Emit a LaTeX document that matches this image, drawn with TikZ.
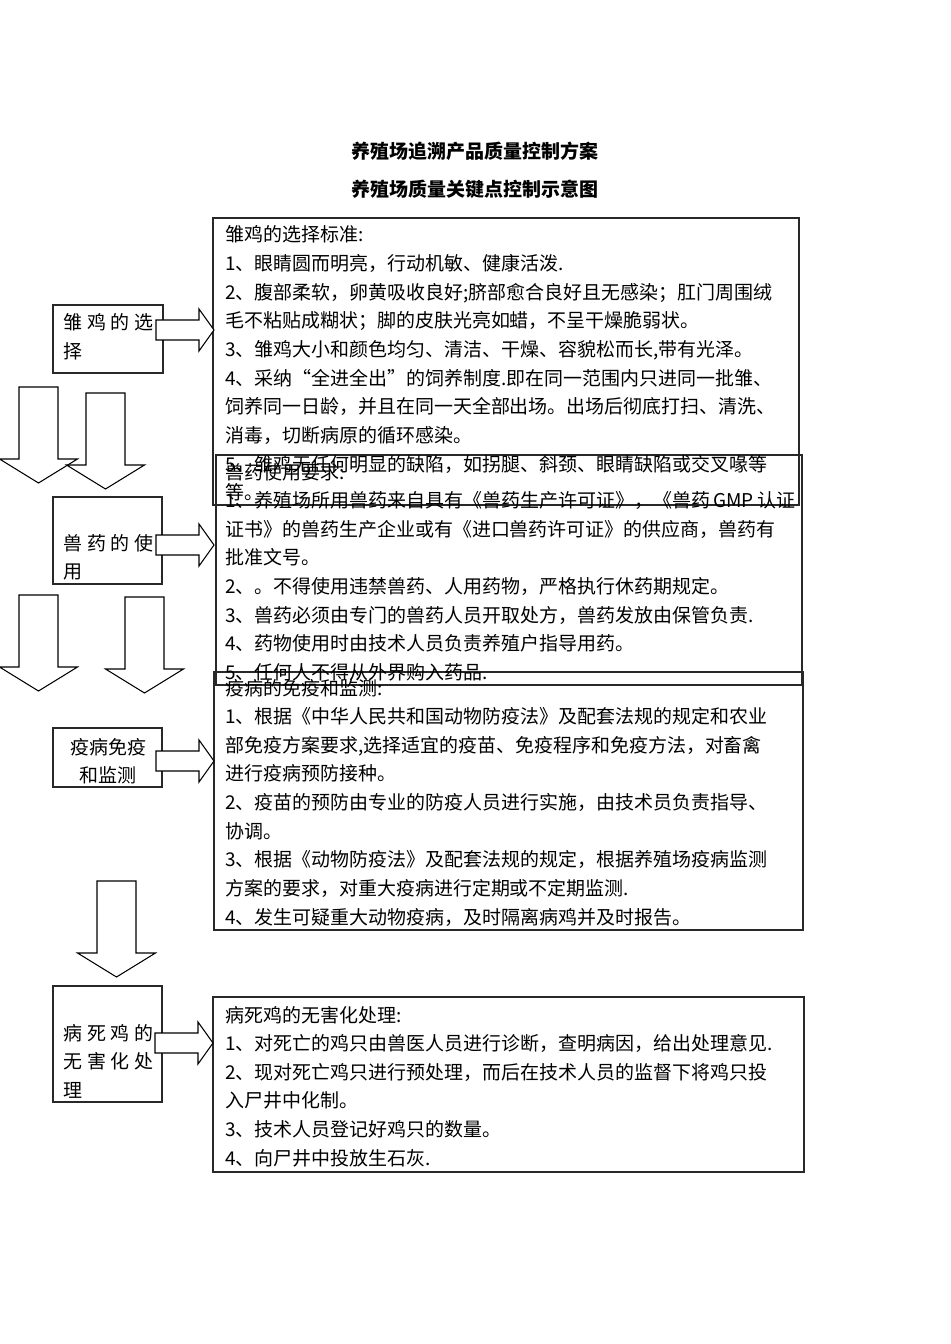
\documentclass[tikz,border=0pt]{standalone}
\usepackage{fontspec}
\usepackage{xcolor}
\usepackage{tikz}
\usetikzlibrary{calc}
\newfontfamily\cjk{Noto Sans CJK SC}
\definecolor{framegray}{RGB}{40,40,40}

\tikzset{
  boxline/.style={draw=framegray, line width=0.6pt},
  blockarrow/.style={draw=black, line width=0.6pt, fill=white},
  notetext/.style={anchor=base west, align=left, inner sep=0pt, text width=11.8cm,
    font=\cjk\fontsize{10.8pt}{16.3pt}\selectfont},
  steptext/.style={anchor=base west, align=left, inner sep=0pt, text width=1.8cm,
    font=\cjk\fontsize{10.8pt}{16.4pt}\selectfont},
  titletext/.style={anchor=base, inner sep=0pt, font=\cjk\bfseries\fontsize{10.8pt}{13pt}\selectfont},
  rarrow/.pic={\draw[blockarrow] (0,-10) -- (43,-10) -- (43,-21) -- (58,0) -- (43,21) -- (43,10) -- (0,10) -- cycle;},
  darrow/.pic={\draw[blockarrow] (-19.5,0) -- (19.5,0) -- (19.5,72) -- (39,72) -- (0,96) -- (-39,72) -- (-19.5,72) -- cycle;}
}

\begin{document}
\begin{tikzpicture}[x=0.02cm, y=-0.02cm]
    \useasboundingbox (0,0) rectangle (950,1344);

    \node[titletext] (title) at (475,159) {养殖场追溯产品质量控制方案};
    \node[titletext] (subtitle) at (475,197) {养殖场质量关键点控制示意图};

    \draw[boxline] (213,218) rectangle (799,505);
    \draw[boxline] (216,455) rectangle (802,685);
    \draw[boxline] (214,672) rectangle (803,930);
    \draw[boxline] (213,997) rectangle (804,1172);

    \node[notetext] (selnote) at (225,242) {雏鸡的选择标准:\\
        1、眼睛圆而明亮，行动机敏、健康活泼.\\
        2、腹部柔软，卵黄吸收良好;脐部愈合良好且无感染；肛门周围绒\\
        毛不粘贴成糊状；脚的皮肤光亮如蜡，不呈干燥脆弱状。\\
        3、雏鸡大小和颜色均匀、清洁、干燥、容貌松而长,带有光泽。\\
        4、采纳“全进全出”的饲养制度.即在同一范围内只进同一批雏、\\
        饲养同一日龄，并且在同一天全部出场。出场后彻底打扫、清洗、\\
        消毒，切断病原的循环感染。\\
        5、雏鸡无任何明显的缺陷，如拐腿、斜颈、眼睛缺陷或交叉喙等\\
        等。};
    \node[notetext] (mednote) at (225,479) {兽药使用要求:\\
        1、养殖场所用兽药来自具有《兽药生产许可证》，《兽药\,GMP\,认证\\
        证书》的兽药生产企业或有《进口兽药许可证》的供应商，兽药有\\
        批准文号。\\
        2、。不得使用违禁兽药、人用药物，严格执行休药期规定。\\
        3、兽药必须由专门的兽药人员开取处方，兽药发放由保管负责.\\
        4、药物使用时由技术人员负责养殖户指导用药。\\
        5、任何人不得从外界购入药品.};
    \node[notetext] (immnote) at (225,695) {疫病的免疫和监测:\\
        1、根据《中华人民共和国动物防疫法》及配套法规的规定和农业\\
        部免疫方案要求,选择适宜的疫苗、免疫程序和免疫方法，对畜禽\\
        进行疫病预防接种。\\
        2、疫苗的预防由专业的防疫人员进行实施，由技术员负责指导、\\
        协调。\\
        3、根据《动物防疫法》及配套法规的规定，根据养殖场疫病监测\\
        方案的要求，对重大疫病进行定期或不定期监测.\\
        4、发生可疑重大动物疫病，及时隔离病鸡并及时报告。};
    \node[notetext] (disnote) at (225,1022) {病死鸡的无害化处理:\\
        1、对死亡的鸡只由兽医人员进行诊断，查明病因，给出处理意见.\\
        2、现对死亡鸡只进行预处理，而后在技术人员的监督下将鸡只投\\
        入尸井中化制。\\
        3、技术人员登记好鸡只的数量。\\
        4、向尸井中投放生石灰.};

    \draw[boxline] (53,305) rectangle (163,373);
    \draw[boxline] (53,497) rectangle (162,584);
    \draw[boxline] (53,728) rectangle (162,787);
    \draw[boxline] (53,986) rectangle (162,1102);

    \node[steptext] (sel) at (63,330) {雏\hfill 鸡\hfill 的\hfill 选\\择};
    \node[steptext] (med) at (63,550) {兽\hfill 药\hfill 的\hfill 使\\用};
    \node[steptext, align=center] (imm) at (63,754) {疫病免疫\\和监测};
    \node[steptext] (dis) at (63,1040) {病\hfill 死\hfill 鸡\hfill 的\\无\hfill 害\hfill 化\hfill 处\\理};

    \pic at (156,330) {rarrow};
    \pic at (156,545) {rarrow};
    \pic at (156,761) {rarrow};
    \pic at (155,1043) {rarrow};

    \pic at (38.5,387) {darrow};
    \pic at (105.5,393) {darrow};
    \pic at (38.5,595) {darrow};
    \pic at (144.5,597) {darrow};
    \pic at (116.5,881) {darrow};
\end{tikzpicture}
\end{document}
